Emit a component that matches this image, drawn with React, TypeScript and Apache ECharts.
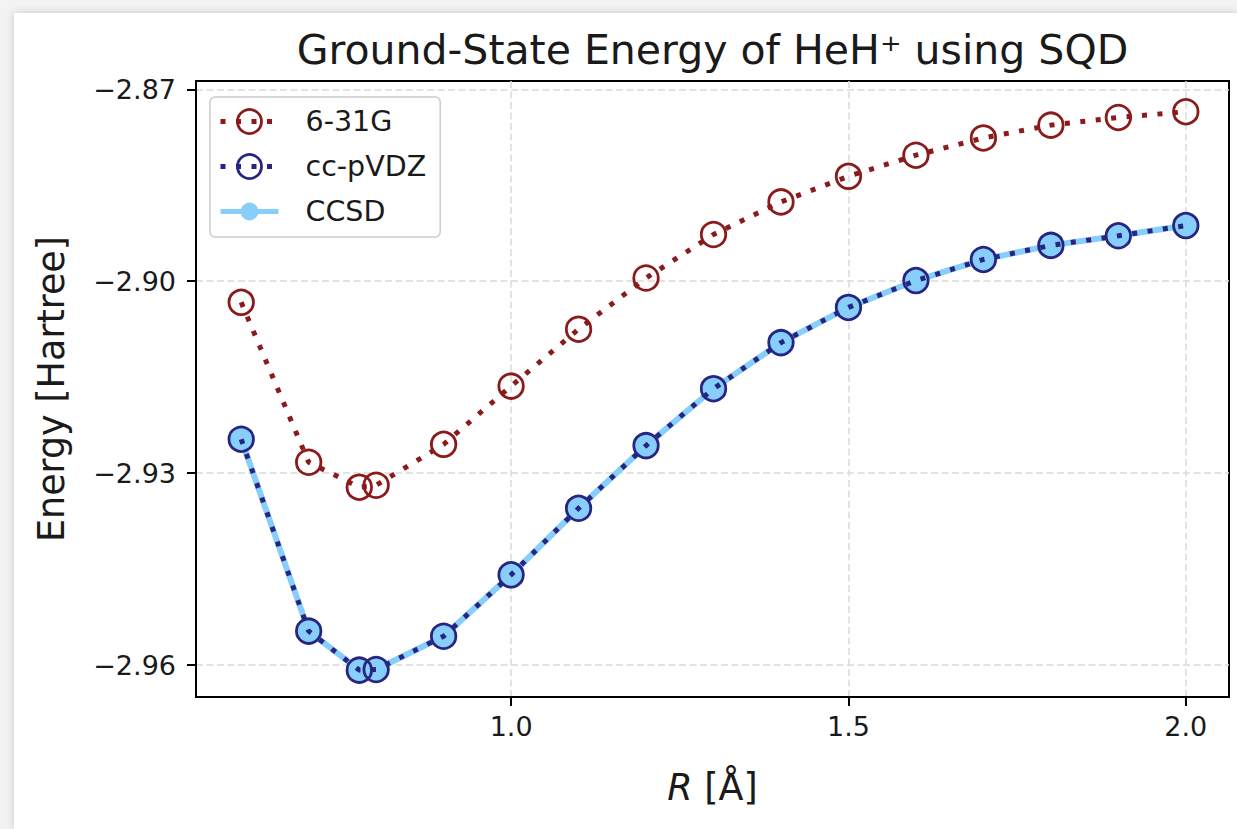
import { useEffect, useRef } from "react";
import * as echarts from "echarts";

// Bond length R [Å]
const R_VALUES = [0.6, 0.7, 0.775, 0.8, 0.9, 1.0, 1.1, 1.2, 1.3, 1.4, 1.5, 1.6, 1.7, 1.8, 1.9, 2.0];
// Energies [Hartree]
const E_631G = [-2.9033, -2.9283, -2.9322, -2.9319, -2.9255, -2.9164, -2.9075, -2.8995, -2.8927, -2.8876, -2.8836, -2.8803, -2.8776, -2.8756, -2.8744, -2.8735];
const E_CCPVDZ = [-2.9247, -2.9547, -2.9608, -2.9607, -2.9555, -2.9459, -2.9355, -2.9257, -2.9168, -2.9096, -2.9041, -2.8999, -2.8966, -2.8944, -2.8929, -2.8913];
const E_CCSD = [-2.9247, -2.9547, -2.9608, -2.9607, -2.9555, -2.9459, -2.9355, -2.9257, -2.9168, -2.9096, -2.9041, -2.8999, -2.8966, -2.8944, -2.8929, -2.8913];

const X_TICKS = [1.0, 1.5, 2.0];
const Y_TICKS = [-2.96, -2.93, -2.9, -2.87];

const TITLE = "Ground-State Energy of HeH\u207A using SQD";
const RED = "#8B1A1A";
const NAVY = "#262682";
const SKY = "#87CEFA";
const FONT = "DejaVu Sans";
const TEXT = "#1a1a1a";

function pairs(ys: number[]) {
  return R_VALUES.map((r, i) => [r, ys[i]]);
}

export default function App() {
  const ref = useRef<HTMLDivElement>(null);
  useEffect(() => {
    document.body.style.margin = "0";
    const chart = echarts.init(ref.current!, null, { renderer: "svg" });
    const gridLine = { color: "#dadada", type: [7, 3.5], width: 1.5 };
    const dotted = [5, 10.5];
    const option: any = {
      animation: false,
      backgroundColor: "#ffffff",
      textStyle: { fontFamily: FONT },
      graphic: [
        {
          type: "text",
          x: 698.5,
          y: 37,
          style: {
            text: TITLE,
            fontSize: 41,
            fontFamily: FONT,
            fill: TEXT,
            align: "center",
            verticalAlign: "middle",
          },
        },
      ],
      grid: {
        left: 182,
        right: 8,
        top: 68,
        bottom: 132,
        show: true,
        borderColor: "#000",
        borderWidth: 2,
        backgroundColor: "transparent",
      },
      legend: {
        orient: "vertical",
        left: 196,
        top: 84,
        padding: [10, 14, 11, 8],
        itemGap: 16,
        itemWidth: 58,
        itemHeight: 30,
        backgroundColor: "#fff",
        borderColor: "#cccccc",
        borderWidth: 1.5,
        borderRadius: 5,
        textStyle: { fontSize: 28.5, color: TEXT, fontFamily: FONT, padding: [0, 0, 0, 22] },
        data: [
          {
            name: "6-31G",
            itemStyle: { color: "rgba(0,0,0,0)", borderColor: RED, borderWidth: 2.8 },
            lineStyle: { color: RED, width: 5, type: dotted },
          },
          {
            name: "cc-pVDZ",
            itemStyle: { color: "rgba(0,0,0,0)", borderColor: NAVY, borderWidth: 2.8 },
            lineStyle: { color: NAVY, width: 5, type: dotted },
          },
          {
            name: "CCSD",
            icon: "path://M0,12.5H22V17.5H0Z M36,12.5H58V17.5H36Z M29,6A9,9 0 0 1 29,24A9,9 0 0 1 29,6Z",
            itemStyle: { color: SKY },
          },
        ],
      },
      xAxis: {
        type: "value",
        min: 0.533,
        max: 2.064,
        axisLine: { show: true, onZero: false, lineStyle: { color: "#000", width: 2 } },
        axisTick: { show: true, customValues: X_TICKS, length: 9, lineStyle: { color: "#000", width: 2 } },
        axisLabel: {
          customValues: X_TICKS,
          formatter: (v: number) => v.toFixed(1),
          fontSize: 27,
          color: TEXT,
          fontFamily: FONT,
          margin: 16,
        },
        splitLine: { show: true, customValues: X_TICKS, lineStyle: gridLine },
        name: "{i|R} [Å]",
        nameLocation: "middle",
        nameGap: 72,
        nameTextStyle: {
          fontSize: 36.5,
          color: TEXT,
          fontFamily: FONT,
          rich: { i: { fontStyle: "italic", fontSize: 36.5, fontFamily: FONT, color: TEXT } },
        },
      },
      yAxis: {
        type: "value",
        min: -2.965,
        max: -2.8687,
        axisLine: { show: true, onZero: false, lineStyle: { color: "#000", width: 2 } },
        axisTick: { show: true, customValues: Y_TICKS, length: 9, lineStyle: { color: "#000", width: 2 } },
        axisLabel: {
          customValues: Y_TICKS,
          formatter: (v: number) => (v < 0 ? "\u2212" : "") + Math.abs(v).toFixed(2),
          fontSize: 27,
          color: TEXT,
          fontFamily: FONT,
          margin: 20,
        },
        splitLine: { show: true, customValues: Y_TICKS, lineStyle: gridLine },
        name: "Energy [Hartree]",
        nameLocation: "middle",
        nameGap: 126,
        nameRotate: 90,
        nameTextStyle: { fontSize: 36.5, color: TEXT, fontFamily: FONT },
      },
      series: [
        {
          name: "CCSD",
          type: "line",
          data: pairs(E_CCSD),
          symbol: "circle",
          symbolSize: 23,
          itemStyle: { color: SKY },
          lineStyle: { color: SKY, width: 6 },
          z: 2,
        },
        {
          name: "cc-pVDZ",
          type: "line",
          data: pairs(E_CCPVDZ),
          symbol: "circle",
          symbolSize: 24.5,
          itemStyle: { color: "rgba(0,0,0,0)", borderColor: NAVY, borderWidth: 2.8 },
          lineStyle: { color: NAVY, width: 5, type: dotted, cap: "butt" },
          z: 3,
        },
        {
          name: "6-31G",
          type: "line",
          data: pairs(E_631G),
          symbol: "circle",
          symbolSize: 24.5,
          itemStyle: { color: "rgba(0,0,0,0)", borderColor: RED, borderWidth: 2.8 },
          lineStyle: { color: RED, width: 5, type: dotted, cap: "butt" },
          z: 3,
        },
      ],
    };
    chart.setOption(option);
    return () => chart.dispose();
  }, []);
  return (
    <div
      style={{
        position: "fixed",
        left: 0,
        top: 0,
        width: 1237,
        height: 829,
        background: "#f3f3f3",
        overflow: "hidden",
      }}
    >
      <div
        ref={ref}
        style={{
          position: "absolute",
          left: 14,
          top: 13,
          width: 1223,
          height: 816,
          background: "#fff",
          boxShadow: "0 0 8px rgba(0,0,0,0.18)",
        }}
      />
    </div>
  );
}
